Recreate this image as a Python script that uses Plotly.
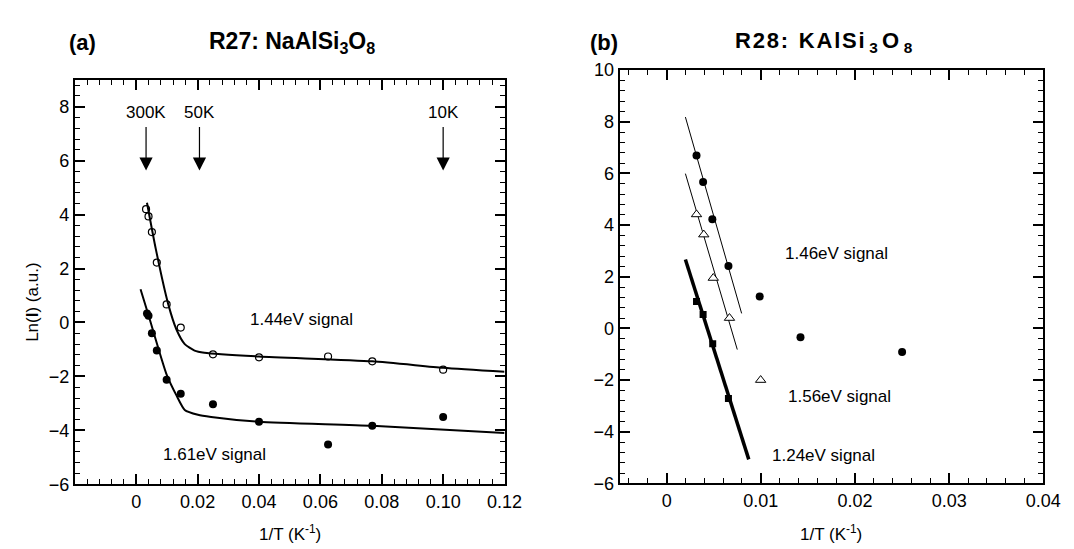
import plotly.graph_objects as go

# ---- panel (a): R27 NaAlSi3O8 ----
a_open_x = [0.0032, 0.0040, 0.0051, 0.0067, 0.0099, 0.0145, 0.025, 0.040, 0.0625, 0.0769, 0.100]
a_open_y = [4.20, 3.93, 3.35, 2.22, 0.67, -0.19, -1.18, -1.29, -1.26, -1.44, -1.75]
a_fill_x = [0.0035, 0.0040, 0.0051, 0.0067, 0.0099, 0.0145, 0.025, 0.040, 0.0625, 0.0769, 0.100]
a_fill_y = [0.33, 0.25, -0.40, -1.04, -2.12, -2.64, -3.03, -3.68, -4.52, -3.83, -3.50]
fit144_x = [0.0035, 0.0064, 0.0104, 0.0131, 0.0158, 0.0190, 0.0222, 0.040, 0.0769, 0.100, 0.120]
fit144_y = [4.44, 2.71, 0.69, -0.26, -0.80, -1.04, -1.12, -1.26, -1.44, -1.68, -1.83]
fit161_x = [0.0014, 0.0040, 0.0099, 0.0131, 0.0158, 0.0201, 0.0244, 0.040, 0.0769, 0.120]
fit161_y = [1.23, 0.27, -1.93, -2.70, -3.24, -3.42, -3.50, -3.68, -3.83, -4.10]
temp_labels = ["300K", "50K", "10K"]
temp_x = [0.0032, 0.0206, 0.100]

# ---- panel (b): R28 KAlSi3O8 ----
b146_x = [0.00317, 0.00387, 0.00485, 0.00656, 0.00988, 0.01421, 0.0250]
b146_y = [6.69, 5.67, 4.22, 2.41, 1.23, -0.34, -0.91]
b156_x = [0.00317, 0.00394, 0.00495, 0.00667, 0.00998]
b156_y = [4.41, 3.63, 1.95, 0.40, -2.00]
b124_x = [0.00317, 0.00387, 0.00489, 0.00656]
b124_y = [1.04, 0.54, -0.59, -2.71]
fit146_x = [0.00199, 0.00796]
fit146_y = [8.18, 0.58]
fit156_x = [0.00199, 0.00750]
fit156_y = [5.99, -0.82]
fit124_x = [0.00199, 0.00872]
fit124_y = [2.67, -5.07]

FONT = "Liberation Sans, Arial, Helvetica, sans-serif"

fig = go.Figure()

# panel (a)
fig.add_trace(go.Scatter(x=fit144_x, y=fit144_y, mode="lines", line=dict(color="black", width=2, shape="spline", smoothing=0.6),
                         xaxis="x", yaxis="y", hoverinfo="skip"))
fig.add_trace(go.Scatter(x=fit161_x, y=fit161_y, mode="lines", line=dict(color="black", width=2, shape="spline", smoothing=0.6),
                         xaxis="x", yaxis="y", hoverinfo="skip"))
fig.add_trace(go.Scatter(x=a_open_x, y=a_open_y, mode="markers",
                         marker=dict(symbol="circle-open", size=7, color="black", line=dict(width=1.2)),
                         xaxis="x", yaxis="y"))
fig.add_trace(go.Scatter(x=a_fill_x, y=a_fill_y, mode="markers",
                         marker=dict(symbol="circle", size=8, color="black"),
                         xaxis="x", yaxis="y"))

# panel (b)
fig.add_trace(go.Scatter(x=fit146_x, y=fit146_y, mode="lines", line=dict(color="black", width=1),
                         xaxis="x2", yaxis="y2", hoverinfo="skip"))
fig.add_trace(go.Scatter(x=fit156_x, y=fit156_y, mode="lines", line=dict(color="black", width=1),
                         xaxis="x2", yaxis="y2", hoverinfo="skip"))
fig.add_trace(go.Scatter(x=fit124_x, y=fit124_y, mode="lines", line=dict(color="black", width=3.5),
                         xaxis="x2", yaxis="y2", hoverinfo="skip"))
fig.add_trace(go.Scatter(x=b146_x, y=b146_y, mode="markers",
                         marker=dict(symbol="circle", size=8, color="black"),
                         xaxis="x2", yaxis="y2"))
fig.add_trace(go.Scatter(x=b156_x, y=b156_y, mode="markers",
                         marker=dict(symbol="triangle-up", size=9, color="white", line=dict(color="black", width=1)),
                         xaxis="x2", yaxis="y2"))
fig.add_trace(go.Scatter(x=b124_x, y=b124_y, mode="markers",
                         marker=dict(symbol="square", size=7, color="black"),
                         xaxis="x2", yaxis="y2"))

tickfont = dict(family=FONT, size=18, color="black")
common_x = dict(showline=True, linecolor="black", linewidth=2, mirror="allticks", ticks="inside",
                ticklen=10, tickwidth=1.5, tickcolor="black", showgrid=False, zeroline=False,
                tickfont=tickfont)
common_y = dict(common_x)

fig.update_layout(
    width=1074, height=549,
    margin=dict(l=0, r=0, t=0, b=0),
    paper_bgcolor="white", plot_bgcolor="white",
    showlegend=False,
    xaxis=dict(common_x, domain=[68 / 1074, 505 / 1074], range=[-0.02, 0.12], anchor="y",
               tickvals=[0, 0.02, 0.04, 0.06, 0.08, 0.10, 0.12],
               ticktext=["0", "0.02", "0.04", "0.06", "0.08", "0.10", "0.12"],
               minor=dict(dtick=0.004, tick0=0, ticks="inside", ticklen=5, tickcolor="black", tickwidth=1)),
    yaxis=dict(common_y, domain=[1 - 484 / 549, 1 - 64 / 549], range=[-6, 9], anchor="x",
               tickvals=[-6, -4, -2, 0, 2, 4, 6, 8],
               minor=dict(dtick=0.4, tick0=0, ticks="inside", ticklen=5, tickcolor="black", tickwidth=1)),
    xaxis2=dict(common_x, domain=[622 / 1074, 1053 / 1074], range=[-0.005, 0.04], anchor="y2",
                tickvals=[0, 0.01, 0.02, 0.03, 0.04],
                ticktext=["0", "0.01", "0.02", "0.03", "0.04"],
                minor=dict(dtick=0.002, tick0=0, ticks="inside", ticklen=5, tickcolor="black", tickwidth=1)),
    yaxis2=dict(common_y, domain=[1 - 483 / 549, 1 - 54 / 549], range=[-6, 10], anchor="x2",
                tickvals=[-6, -4, -2, 0, 2, 4, 6, 8, 10],
                minor=dict(dtick=0.4, tick0=0, ticks="inside", ticklen=5, tickcolor="black", tickwidth=1)),
)

label_font = dict(family=FONT, size=17, color="black")


def paper_text(px, py, text, size=17, angle=0):
    return dict(x=px / 1074, y=1 - py / 549, xref="paper", yref="paper", xanchor="center", yanchor="middle",
                text=text, textangle=angle, showarrow=False, font=dict(family=FONT, size=size, color="black"))


ann = []
# temperature arrows on panel (a)
for lab, tx in zip(temp_labels, temp_x):
    ann.append(dict(x=tx, y=7.78, xref="x", yref="y", text=lab, showarrow=False, font=label_font,
                    xanchor="center", yanchor="middle"))
    ann.append(dict(x=tx, y=5.63, ax=tx, ay=7.30, xref="x", yref="y", axref="x", ayref="y", text="",
                    showarrow=True, arrowhead=2, arrowsize=2.2, arrowwidth=1.2, arrowcolor="black"))
for txt, x, y, sfx in [("1.44eV signal", 0.0539, 0.10, ""), ("1.61eV signal", 0.0254, -4.9, ""),
                       ("1.46eV signal", 0.01804, 2.88, "2"), ("1.56eV signal", 0.0184, -2.65, "2"),
                       ("1.24eV signal", 0.01668, -4.92, "2")]:
    ann.append(dict(x=x, y=y, xref="x" + sfx, yref="y" + sfx, text=txt, showarrow=False, font=label_font,
                    xanchor="center", yanchor="middle"))

hs = "&#8202;"
ts = "&#8201;"
title_b = ("<b>R" + hs + "2" + hs + "8" + hs + ":" + ts + " K" + hs + "A" + hs + "l" + hs + "S" + hs + "i"
           + ts + "<sub>3</sub>" + ts + "O" + ts + "<sub>8</sub></b>")

ann += [
    paper_text(76, 25, "<b>(a)</b>", size=22),
    paper_text(289, 25, "<b>R27: NaAlSi<sub>3</sub>O<sub>8</sub></b>", size=23),
    paper_text(606, 25, "<b>(b)</b>", size=22),
    paper_text(830, 25, title_b, size=22),
    paper_text(25, 295, "Ln(<b>I</b>) (a.u.)", angle=-90),
    paper_text(287, 534, "1/T (K<sup>-1</sup>)"),
    paper_text(837, 534, "1/T (K<sup>-1</sup>)"),
]
fig.update_layout(annotations=ann)

fig.write_html("out.html")
